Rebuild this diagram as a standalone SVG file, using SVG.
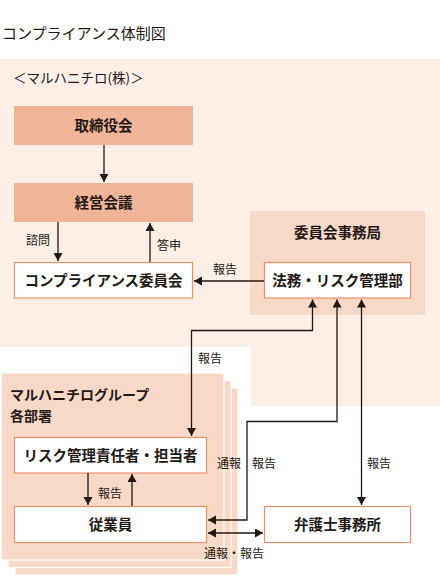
<svg xmlns="http://www.w3.org/2000/svg" width="440" height="580" viewBox="0 0 440 580">
<style>
text{font-family:"Noto Sans CJK JP","Noto Sans",sans-serif;fill:#231815}
.t{font-size:15px}
.b{font-size:14.5px;font-weight:bold;text-anchor:middle}
.g{font-size:14px;font-weight:bold}
.s{font-size:12px}
.wb{fill:#fff;stroke:#ee8f69;stroke-width:1.2}
.dk{fill:#f0b598}
.md{fill:#f8d8c7}
.ly{fill:#f8d8c7;stroke:#fff;stroke-width:1.2}
.c{fill:none;stroke:#231815;stroke-width:1.3}
</style>
<defs>
<marker id="ah" markerUnits="userSpaceOnUse" markerWidth="9" markerHeight="10" refX="8" refY="4.5" orient="auto-start-reverse" viewBox="0 0 9 10">
<path d="M0,0 L8,4.5 L0,9 z" fill="#231815"/>
</marker>
</defs>
<rect width="440" height="580" fill="#fff"/>
<text class="t" x="2" y="39">コンプライアンス体制図</text>
<path id="bg" d="M0,59 H440 V406 H251 V347 H0 Z" fill="#fdeee6"/>
<text x="13" y="83" style="font-size:13.5px">＜マルハニチロ(株)＞</text>

<g id="torishimari"><rect class="dk" x="14" y="106" width="179" height="39"/><text class="b" x="103.5" y="131">取締役会</text></g>
<g id="keiei"><rect class="dk" x="14" y="183" width="179" height="39"/><text class="b" x="103.5" y="208">経営会議</text></g>
<g id="iinkai"><rect class="wb" x="14.5" y="262.5" width="178" height="35.5"/><text class="b" x="103.5" y="285.5">コンプライアンス委員会</text></g>
<g id="jimukyoku"><rect class="md" x="250" y="211" width="175" height="104"/><text class="b" x="337.5" y="238">委員会事務局</text>
<g id="homu"><rect class="wb" x="264.5" y="262.5" width="146" height="35.5"/><text class="b" x="337.5" y="285.5">法務・リスク管理部</text></g></g>

<g id="group">
<rect class="ly" x="15" y="388" width="223" height="187"/>
<rect class="ly" x="8" y="380.5" width="223" height="187"/>
<rect class="ly" x="1" y="373" width="223" height="187"/>
<text class="g" x="10" y="400">マルハニチログループ</text>
<text class="g" x="10" y="421">各部署</text>
<g id="risk"><rect class="wb" x="14.5" y="437.5" width="192" height="35.5"/><text class="b" x="110.5" y="460.5">リスク管理責任者・担当者</text></g>
<g id="jugyoin"><rect class="wb" x="14.5" y="506.5" width="192" height="36"/><text class="b" x="110.5" y="530">従業員</text></g>
</g>
<g id="bengoshi"><rect class="wb" x="264.5" y="506.5" width="146" height="36"/><text class="b" x="337.5" y="530">弁護士事務所</text></g>

<g id="connectors">
<line class="c" x1="104" y1="145" x2="104" y2="182" marker-end="url(#ah)"/>
<line class="c" x1="58" y1="222" x2="58" y2="261" marker-end="url(#ah)"/>
<line class="c" x1="150" y1="262" x2="150" y2="223" marker-end="url(#ah)"/>
<line class="c" x1="264" y1="281" x2="194" y2="281" marker-end="url(#ah)"/>
<polyline class="c" points="312.5,299.5 312.5,330.5 191.5,330.5 191.5,436" marker-start="url(#ah)" marker-end="url(#ah)"/>
<polyline class="c" points="337,299.5 337,421.5 247,421.5 247,520 208,520" marker-start="url(#ah)" marker-end="url(#ah)"/>
<line class="c" x1="361.5" y1="299.5" x2="361.5" y2="505" marker-start="url(#ah)" marker-end="url(#ah)"/>
<line class="c" x1="208" y1="533" x2="263" y2="533" marker-start="url(#ah)" marker-end="url(#ah)"/>
<line class="c" x1="88" y1="473" x2="88" y2="505" marker-end="url(#ah)"/>
<line class="c" x1="132" y1="506" x2="132" y2="474" marker-end="url(#ah)"/>
</g>
<g id="labels">
<text class="s" x="26" y="245">諮問</text>
<text class="s" x="157" y="249.5">答申</text>
<text class="s" x="213" y="274">報告</text>
<text class="s" x="198" y="363">報告</text>
<text class="s" x="217" y="467.5">通報</text>
<text class="s" x="252" y="467.5">報告</text>
<text class="s" x="367" y="467.5">報告</text>
<text class="s" x="98" y="497.5">報告</text>
<text class="s" x="204" y="557.5">通報・報告</text>
</g>
</svg>
